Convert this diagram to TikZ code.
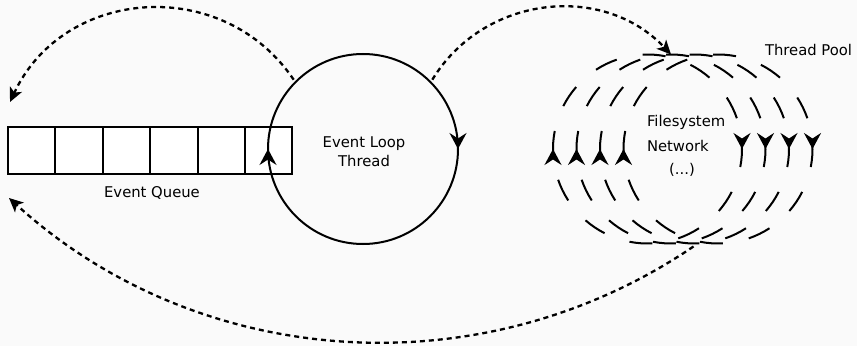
\documentclass[tikz,border=0pt]{standalone}
\usepackage{fontspec}
\setmainfont{DejaVu Sans}
\usetikzlibrary{arrows.meta,decorations.markings,calc}
\definecolor{paper}{RGB}{250,250,250}
\definecolor{ink}{RGB}{0,0,0}
\tikzset{
  spintip/.tip={Stealth[length=16pt, width=17pt, inset=5.5pt]},
  hoptip/.tip={Stealth[length=14pt, width=13pt, inset=3.5pt]},
}
\begin{document}
\begin{tikzpicture}[x=1pt,y=1pt,
  every node/.style={font=\fontsize{14.8}{19}\selectfont, text=ink, inner sep=0pt, outer sep=0pt},
  cell/.style={draw=ink, line width=2pt, fill=white, minimum width=47.4pt, minimum height=47.3pt},
  ring/.style={circle, minimum size=#1, inner sep=0pt},
  spinmarks/.style={
    decoration={markings,
      mark=at position 0.25 with {\arrow{spintip}},
      mark=at position 0.75 with {\arrow{spintip}}},
    postaction=decorate},
  spin/.style={line width=2pt, draw=ink, spinmarks},
  pooldash/.style={line width=2pt, draw=ink},
  hop/.style={draw=ink, line width=2.3pt, dash pattern=on 5pt off 4pt, -hoptip},
]
% canvas
\useasboundingbox[fill=paper] (0,0) rectangle (857,346);

% event queue: six cells in a row
\foreach \i in {1,...,6}
  \node[cell] (q\i) at ({8+47.4*(\i-0.5)},195.5) {};
\node[anchor=base] (qlabel) at (152,148.7) {Event Queue};

% event loop thread, drawn clockwise with direction marks
\node[ring=190pt] (loop) at (363,197) {};
\draw[spin] (loop.north) arc[start angle=90, end angle=-270, radius=95];
\node[align=center] (looptext) at (364,194) {Event Loop\\Thread};

% thread pool: four dashed rings
\foreach \i/\x in {1/647.5, 2/671, 3/694.5, 4/718} {
  \node[ring=189pt] (pool\i) at (\x,197) {};
  \foreach \k in {0,...,11}
    \draw[pooldash] (pool\i.center) ++({93-30*\k}:94.5)
      arc[start angle={93-30*\k}, delta angle=-14, radius=94.5];
  \path[line width=2pt, spinmarks] (pool\i.north) arc[start angle=90, end angle=-270, radius=94.5];
}
\node[anchor=base west] (tplabel) at (765,290.2) {Thread Pool};
\node[anchor=base west] (fs) at (647,219.2) {Filesystem};
\node[anchor=base west] (net) at (647,194.5) {Network};
\node[anchor=base] (more) at (682,171.5) {(...)};

% connectors
\coordinate (outL) at ($(loop.center)+(135:98)$);
\coordinate (outR) at ($(loop.center)+(45:98)$);
\coordinate (inTop) at (10,244);
\coordinate (inBot) at (9,148);
\coordinate (poolout) at ($(pool3.south)+(-1,-3)$);

\draw[hop] (outL) .. controls +(124:126.7) and +(65:126.7) .. (inTop);
\draw[hop] (outR) .. controls +(58.7:99) and +(133.3:99) .. (pool2.north);
\draw[hop] (poolout) .. controls +(-145.8:256) and +(-42.3:256) .. (inBot);
\end{tikzpicture}
\end{document}
